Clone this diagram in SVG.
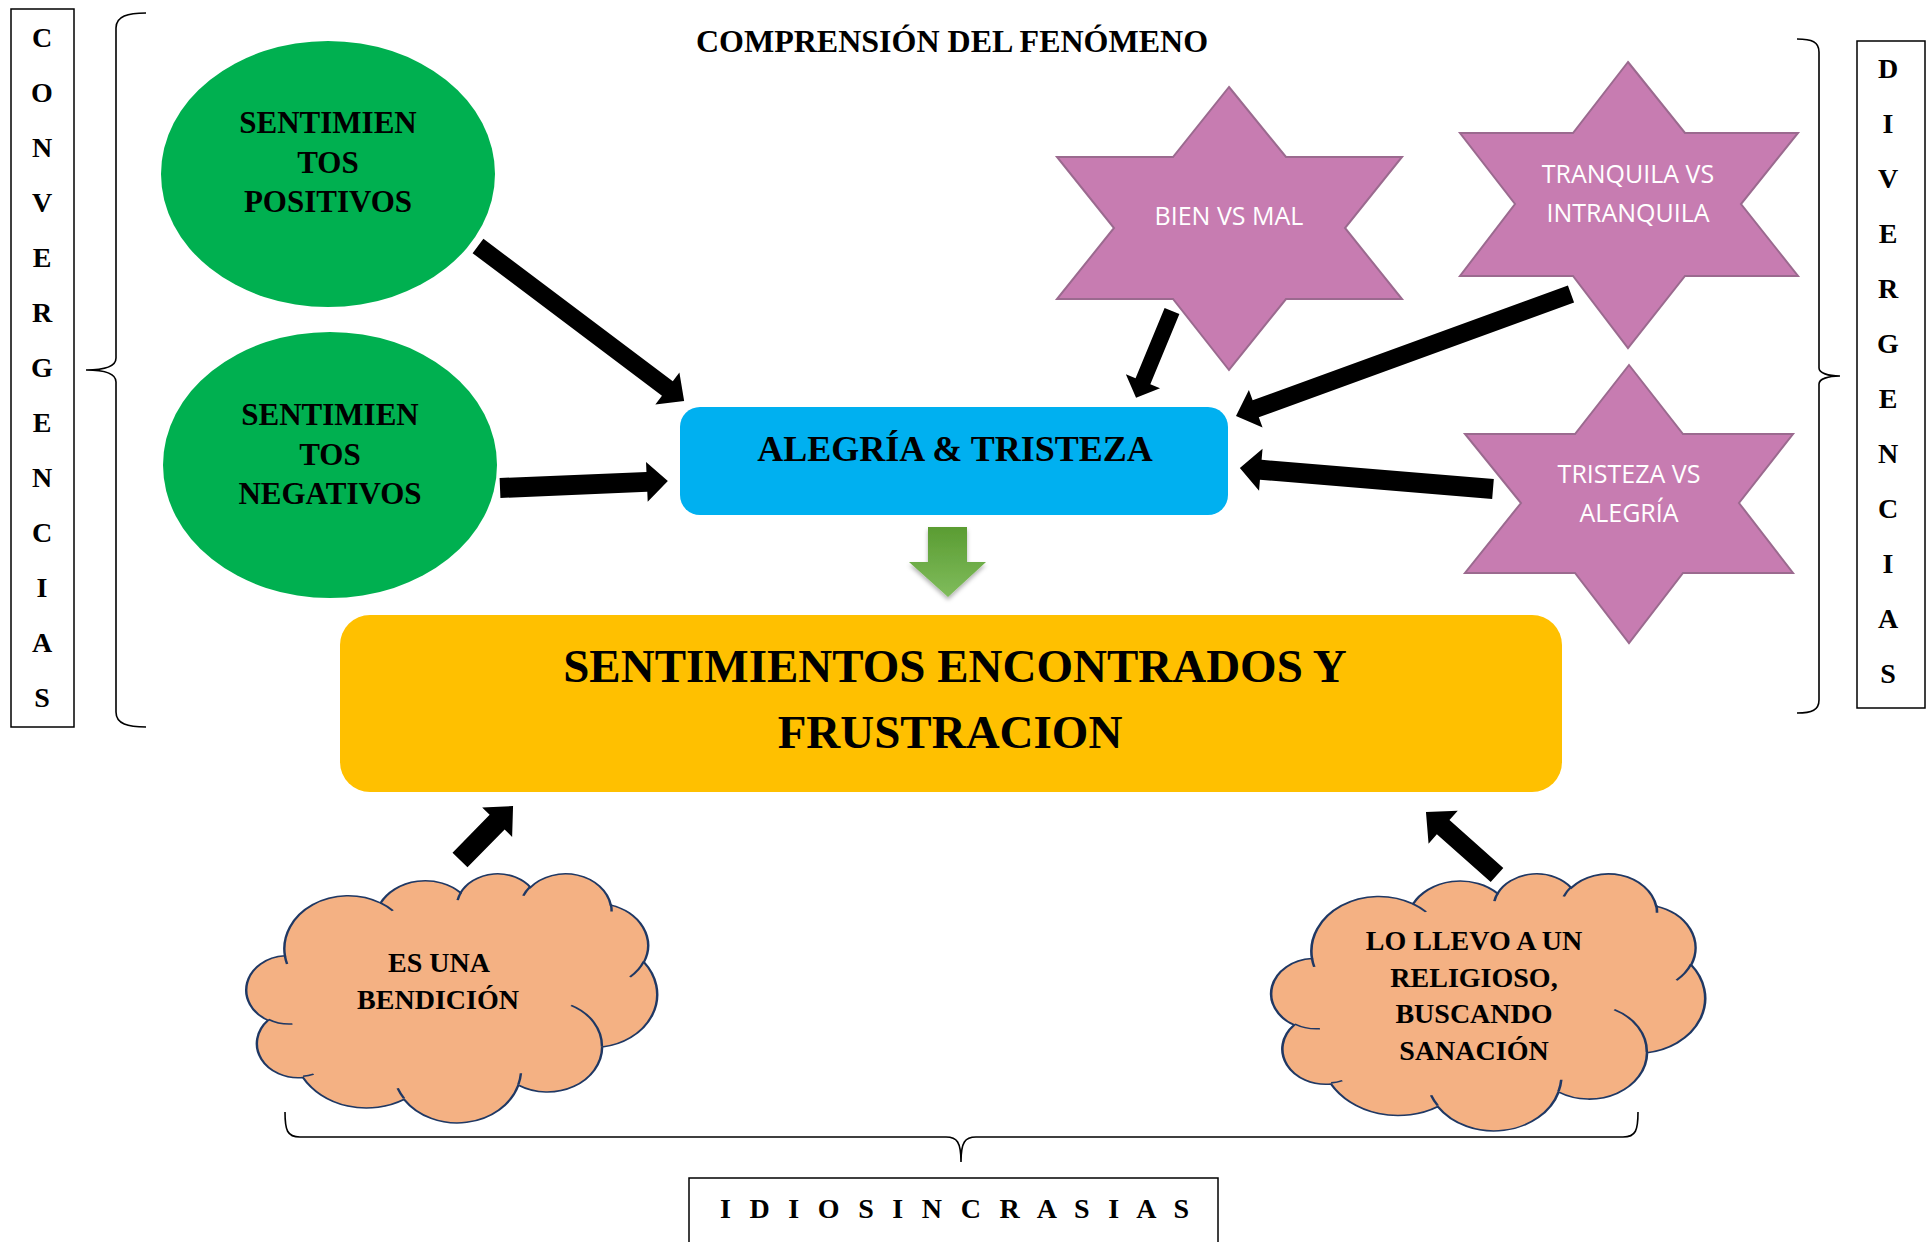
<svg xmlns="http://www.w3.org/2000/svg" width="1927" height="1242" viewBox="0 0 1927 1242">
<defs>
<style>
.serif{font-family:"Liberation Serif","Times New Roman",serif;font-weight:bold;fill:#000}
.sans{font-family:"Open Sans","Liberation Sans",sans-serif;fill:#fff}
.frame{fill:#fff;stroke:#000;stroke-width:1.5}
.brace{fill:none;stroke:#000;stroke-width:1.6}
.ell{fill:#00B050}
.star{fill:#C77CB1;stroke:#9B6A8F;stroke-width:2}
.arrow{fill:#000}
.cloudfill{fill:#F4B183;stroke:#1F3864;stroke-width:2.6}
.cloudline{fill:none;stroke:#1F3864;stroke-width:2.6}
</style>
<linearGradient id="gArrow" x1="0" y1="0" x2="0" y2="1">
<stop offset="0" stop-color="#5A9C32"/>
<stop offset="1" stop-color="#80BC5C"/>
</linearGradient>
<filter id="shadow" x="-30%" y="-30%" width="160%" height="160%">
<feDropShadow dx="0" dy="3" stdDeviation="2" flood-color="#000" flood-opacity="0.3"/>
</filter>
<path id="cloudShape" d="M39,143.7 A67.53 91.9 0 0 1 140.05 52.02 A53.33 72.67 0 0 1 224.56 34.32 A43.65 59.45 0 0 1 298.33 24.81 A48.57 65.95 0 0 1 383.18 55.76 A53.33 72.73 0 0 1 418.18 154.6 A67.75 92.2 0 0 1 374.04 302.03 A57.85 78.67 0 0 1 285.56 368.14 A67.52 92.15 0 0 1 164.81 392.66 A77.2 105.43 0 0 1 58.04 354.71 A43.6 59.18 0 0 1 21.13 255.49 A43.45 59.45 0 0 1 39 143.7 Z"/>
<path id="cloudInner" d="M46.93,261.77 A43.45 59.45 0 0 1 21.6 253.8 M69.28,348.99 A43.6 59.18 0 0 1 58.2 352.81 M164.78,390.9 A67.52 92.15 0 0 1 158.1 373.49 M288.27,347.51 A67.52 92.15 0 0 1 285.6 366.6 M341.29,229.54 A57.85 78.67 0 0 1 373.81 300.9 M417.98,153.54 A53.33 72.73 0 0 1 403.5 180.3 M383.24,54.26 A48.57 65.95 0 0 1 384 66.9 M290.78,39.52 A48.57 65.95 0 0 1 298.21 23.39 M221.41,47.2 A43.65 59.45 0 0 1 225 33.3 M140,51.92 A67.53 91.9 0 0 1 153 65.4 M41.27,157.89 A67.53 91.9 0 0 1 39 143.71"/>
</defs>
<rect width="1927" height="1242" fill="#fff"/>

<text id="title" class="serif" x="952" y="52" font-size="32" text-anchor="middle">COMPRENSIÓN DEL FENÓMENO</text>

<g id="convergencias">
<rect class="frame" x="11" y="9" width="63" height="718"/>
<text class="serif" font-size="28" text-anchor="middle"><tspan x="42" y="47">C</tspan><tspan x="42" y="102">O</tspan><tspan x="42" y="157">N</tspan><tspan x="42" y="212">V</tspan><tspan x="42" y="267">E</tspan><tspan x="42" y="322">R</tspan><tspan x="42" y="377">G</tspan><tspan x="42" y="432">E</tspan><tspan x="42" y="487">N</tspan><tspan x="42" y="542">C</tspan><tspan x="42" y="597">I</tspan><tspan x="42" y="652">A</tspan><tspan x="42" y="707">S</tspan></text>
<path class="brace" d="M146,13 C128,13 116,16 116,28 L116,358 C116,366 106,370 86,370 C106,370 116,374 116,382 L116,712 C116,724 128,727 146,727"/>
</g>

<g id="divergencias">
<rect class="frame" x="1857" y="41" width="68" height="667"/>
<text class="serif" font-size="28" text-anchor="middle"><tspan x="1888" y="78">D</tspan><tspan x="1888" y="133">I</tspan><tspan x="1888" y="188">V</tspan><tspan x="1888" y="243">E</tspan><tspan x="1888" y="298">R</tspan><tspan x="1888" y="353">G</tspan><tspan x="1888" y="408">E</tspan><tspan x="1888" y="463">N</tspan><tspan x="1888" y="518">C</tspan><tspan x="1888" y="573">I</tspan><tspan x="1888" y="628">A</tspan><tspan x="1888" y="683">S</tspan></text>
<path class="brace" d="M1797,39 C1812,39 1819,42 1819,52 L1819,368 C1819,373 1828,376 1840,376 C1828,376 1819,379 1819,384 L1819,700 C1819,710 1812,713 1797,713"/>
</g>

<g id="idiosincrasias">
<path class="brace" d="M285,1112 C285,1130 287,1137 300,1137 L946,1137 C957,1137 961,1142 961,1162 C961,1142 965,1137 976,1137 L1623,1137 C1636,1137 1638,1130 1638,1112"/>
<rect class="frame" x="689" y="1178" width="529" height="80"/>
<text class="serif" x="720" y="1218" font-size="28" textLength="469" lengthAdjust="spacing">I D I O S I N C R A S I A S</text>
</g>

<g id="positivos">
<ellipse class="ell" cx="328" cy="174" rx="167" ry="133"/>
<text class="serif" font-size="31" text-anchor="middle"><tspan x="328" y="133">SENTIMIEN</tspan><tspan x="328" y="173">TOS</tspan><tspan x="328" y="212">POSITIVOS</tspan></text>
</g>

<g id="negativos">
<ellipse class="ell" cx="330" cy="465" rx="167" ry="133"/>
<text class="serif" font-size="31" text-anchor="middle"><tspan x="330" y="425">SENTIMIEN</tspan><tspan x="330" y="465">TOS</tspan><tspan x="330" y="504">NEGATIVOS</tspan></text>
</g>

<g id="bien-mal">
<polygon class="star" points="1229,87 1286,157 1402,157 1345,228 1402,299 1286,299 1229,370 1173,299 1057,299 1114,228 1057,157 1173,157"/>
<text class="sans" x="1229" y="225" font-size="25" text-anchor="middle">BIEN VS MAL</text>
</g>

<g id="tranquila">
<polygon class="star" points="1628,62 1685,133 1798,133 1741,204 1798,276 1685,276 1628,348 1573,276 1460,276 1515,204 1460,133 1573,133"/>
<text class="sans" font-size="25" text-anchor="middle"><tspan x="1628" y="183">TRANQUILA VS</tspan><tspan x="1628" y="222">INTRANQUILA</tspan></text>
</g>

<g id="tristeza">
<polygon class="star" points="1629,365 1683,434 1793,434 1739,503 1793,573 1683,573 1629,643 1575,573 1465,573 1521,503 1465,434 1575,434"/>
<text class="sans" font-size="25" text-anchor="middle"><tspan x="1629" y="483">TRISTEZA VS</tspan><tspan x="1629" y="522">ALEGRÍA</tspan></text>
</g>

<g id="alegria-tristeza">
<rect x="680" y="407" width="548" height="108" rx="20" fill="#00B0F0"/>
<text class="serif" x="955" y="461" font-size="36" text-anchor="middle">ALEGRÍA &amp; TRISTEZA</text>
</g>

<g id="sentimientos">
<rect x="340" y="615" width="1222" height="177" rx="30" fill="#FFC000"/>
<text class="serif" font-size="47" text-anchor="middle"><tspan x="955" y="682">SENTIMIENTOS ENCONTRADOS Y</tspan><tspan x="950" y="748">FRUSTRACION</tspan></text>
</g>

<g id="bendicion">
<g transform="translate(248,873) scale(0.9468,0.5764)">
<use href="#cloudShape" class="cloudfill" vector-effect="non-scaling-stroke"/>
<use href="#cloudInner" class="cloudline" vector-effect="non-scaling-stroke"/>
</g>
<text class="serif" font-size="28" text-anchor="middle"><tspan x="439" y="972">ES UNA</tspan><tspan x="438" y="1009">BENDICIÓN</tspan></text>
</g>

<g id="religioso">
<g transform="translate(1273,873) scale(1,0.5949)">
<use href="#cloudShape" class="cloudfill" vector-effect="non-scaling-stroke"/>
<use href="#cloudInner" class="cloudline" vector-effect="non-scaling-stroke"/>
</g>
<text class="serif" font-size="28" text-anchor="middle"><tspan x="1474" y="950">LO LLEVO A UN</tspan><tspan x="1474" y="987">RELIGIOSO,</tspan><tspan x="1474" y="1023">BUSCANDO</tspan><tspan x="1474" y="1060">SANACIÓN</tspan></text>
</g>

<g id="connectors">
<path class="arrow" transform="translate(478,246) rotate(36.96)" d="M0,-9 L237,-9 L237,-20 L258,0 L237,20 L237,9 L0,9 Z"/>
<path class="arrow" transform="translate(500,488) rotate(-2.39)" d="M0,-10 L147,-10 L147,-20 L168,0 L147,20 L147,10 L0,10 Z"/>
<path class="arrow" transform="translate(1172,311) rotate(112.48)" d="M0,-8 L76,-8 L76,-18.5 L94,0 L76,18.5 L76,8 L0,8 Z"/>
<path class="arrow" transform="translate(1571,294) rotate(160)" d="M0,-9 L335.5,-9 L335.5,-20 L356.5,0 L335.5,20 L335.5,9 L0,9 Z"/>
<path class="arrow" transform="translate(1493,489) rotate(184.74)" d="M0,-10 L233,-10 L233,-21 L254,0 L233,21 L233,10 L0,10 Z"/>
<path class="arrow" transform="translate(460,860) rotate(-45.5)" d="M0,-10.5 L53,-10.5 L53,-21 L75.7,0 L53,21 L53,10.5 L0,10.5 Z"/>
<path class="arrow" transform="translate(1497,875) rotate(-138.4)" d="M0,-9.5 L72,-9.5 L72,-22 L95,0 L72,22 L72,9.5 L0,9.5 Z"/>
<path fill="url(#gArrow)" filter="url(#shadow)" d="M928,527 L967,527 L967,562 L986,562 L948,597 L909,562 L928,562 Z"/>
</g>
</svg>
